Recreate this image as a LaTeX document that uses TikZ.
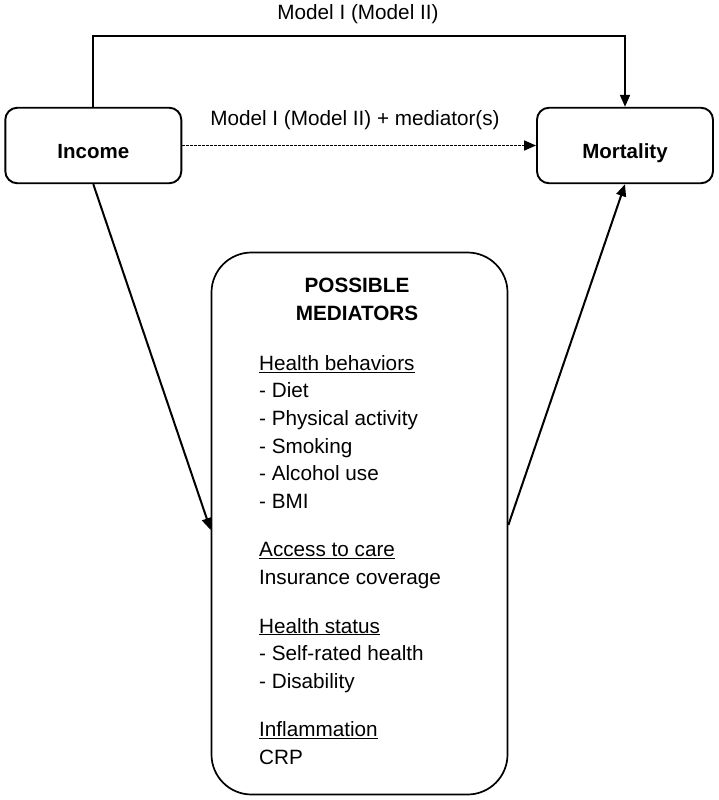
\documentclass[tikz,border=0pt]{standalone}
\usepackage{fontspec}
\setmainfont{Liberation Sans}
\usetikzlibrary{arrows.meta}

\begin{document}
\begin{tikzpicture}[x=1pt, y=1pt,
    riquadro/.style={draw, line width=1.9pt, rounded corners=12pt, minimum width=176pt, minimum height=75.5pt,
        font=\fontsize{20.5}{24}\selectfont\bfseries, text height=30pt, text depth=4pt},
    freccia/.style={line width=2pt, -{Triangle[length=12pt, width=10pt]}},
    etichetta/.style={font=\fontsize{20.7}{27.6}\selectfont, inner sep=0pt}]
    % Sfondo e dimensioni
    \fill[white] (0,0) rectangle (718,-800);
    \useasboundingbox (0,0) rectangle (718,-800);

    % Riquadri principali
    \node[riquadro] (income) at (93.3,-145.5) {Income};
    \node[riquadro] (mortality) at (625,-145.5) {Mortality};
    \node[draw, line width=1.7pt, rounded corners=40pt, minimum width=296pt, minimum height=542pt] (mediatori) at (359.5,-523.5) {};

    % Testo dei mediatori
    \node[etichetta, font=\fontsize{20.7}{28}\selectfont\bfseries, align=center] (titolo) at (357,-299) {POSSIBLE\\MEDIATORS};
    \node[etichetta, align=left, anchor=north west] (elenco) at (259,-355) {%
        \underline{Health behaviors}\\
        - Diet\\
        - Physical activity\\
        - Smoking\\
        - Alcohol use\\
        - BMI\\[21pt]
        \underline{Access to care}\\
        Insurance coverage\\[21pt]
        \underline{Health status}\\
        - Self-rated health\\
        - Disability\\[21pt]
        \underline{Inflammation}\\
        CRP};

    % Etichette dei modelli
    \node[etichetta] (modello) at (358,-14) {Model I (Model II)};
    \node[etichetta] (modellomed) at (355,-120) {Model I (Model II) + mediator(s)};

    % Frecce
    \draw[freccia] (income.north) -- ++(0,70.5) -| (mortality.north);
    \draw[freccia, line width=1.5pt, dash pattern=on 2.5pt off 1.5pt] (income.east) -- (mortality.west);
    \draw[freccia] (income.south) -- ([yshift=-6.5pt]mediatori.west);
    \draw[freccia] ([yshift=-1.5pt]mediatori.east) -- (mortality.south);
\end{tikzpicture}
\end{document}
